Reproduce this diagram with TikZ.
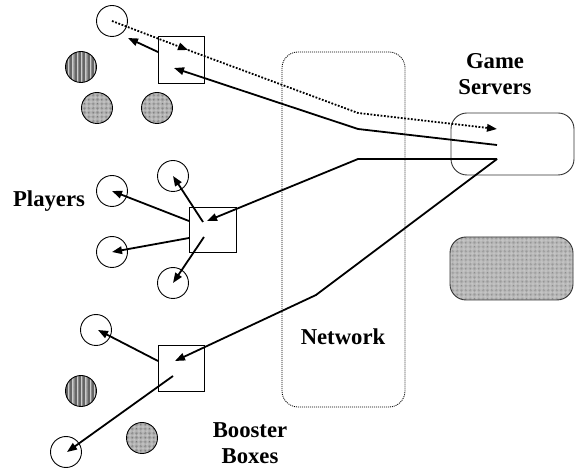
\documentclass[tikz,border=0pt]{standalone}
\usepackage{fontspec}
\setmainfont{Liberation Serif}
\usetikzlibrary{arrows.meta,patterns.meta}
\begin{document}
\begin{tikzpicture}[x=1pt,y=-1pt,
  lbl/.style={font=\fontsize{22.7}{26}\selectfont\bfseries, inner sep=0pt, align=center},
  player/.style={circle, draw, line width=0.9pt, minimum size=31pt, inner sep=0pt},
  vhatch/.style={player, preaction={fill=gray!40},
    pattern={Lines[angle=90,distance=1.3pt,line width=0.5pt]}, pattern color=black!60},
  dotfill/.style={player, preaction={fill=gray!40},
    pattern={Dots[distance=1.3pt,radius=0.4pt]}, pattern color=black!60},
  booster/.style={rectangle, draw, line width=0.9pt, inner sep=0pt},
  tip/.style={-{Triangle[length=10pt,width=7.5pt]}},
  arr/.style={line width=1.8pt, tip},
  dotline/.style={line width=1.8pt, dash pattern=on 1.8pt off 1.6pt},
]
\useasboundingbox (0,0) rectangle (579,470);

% network cloud and servers
\node[draw, line width=0.8pt, dash pattern=on 1pt off 1pt, rounded corners=16pt,
      minimum width=123pt, minimum height=355pt, inner sep=0pt] (net) at (343.5,229.5) {};
\node[draw=black!80, line width=0.9pt, rounded corners=16pt,
      minimum width=123pt, minimum height=62pt, inner sep=0pt] (srv) at (512.5,144) {};
\node[draw=black!80, line width=0.9pt, rounded corners=16pt,
      minimum width=123pt, minimum height=63pt, inner sep=0pt,
      preaction={fill=gray!40}, pattern={Dots[distance=1.3pt,radius=0.4pt]},
      pattern color=black!50] (srv2) at (511.5,268.5) {};

% booster boxes
\node[booster, minimum width=46pt, minimum height=47pt] (b1) at (181,59.5) {};
\node[booster, minimum width=47pt, minimum height=45pt] (b2) at (212.5,229.5) {};
\node[booster, minimum width=46pt, minimum height=46pt] (b3) at (181,368) {};

% players (open) and other machines (hatched)
\node[player] (p1) at (112,21) {};
\node[vhatch] (h1) at (81,67) {};
\node[dotfill] (d1) at (97,108) {};
\node[dotfill] (d2) at (157,108) {};
\node[player] (q1) at (112,191) {};
\node[player] (q2) at (173,176) {};
\node[player] (q3) at (112,252) {};
\node[player] (q4) at (173,283) {};
\node[player] (r1) at (96,330) {};
\node[vhatch] (h2) at (81,391) {};
\node[dotfill] (d3) at (142,438) {};
\node[player] (r2) at (66,452) {};

% labels
\node[lbl, anchor=north] (gs) at (495,53) {Game\\Servers};
\node[lbl, anchor=base] (pl) at (49,207) {Players};
\node[lbl, anchor=base] (nw) at (343,345) {Network};
\node[lbl, anchor=north] (bb) at (250,422.5) {Booster\\Boxes};

% connector end points
\coordinate (ds) at (497,129);
\coordinate (s1) at (497,145);
\coordinate (s2) at (497,159);
\coordinate (dk) at (358,113);
\coordinate (k1) at (358,129);
\coordinate (k2) at (358,159);
\coordinate (k3) at (316,295);
\coordinate (dm) at (188,50);
\coordinate (b1in) at (174,68);
\coordinate (b1w) at (158,52);
\coordinate (p1e) at (128,38);
\coordinate (b2in) at (207,221);
\coordinate (b2a) at (203,222);
\coordinate (b2b) at (189,221);
\coordinate (b2c) at (189,238);
\coordinate (b2d) at (204,237);
\coordinate (b3in) at (175,361);
\coordinate (b3a) at (158,361);
\coordinate (b3b) at (173,376);

% player -> booster -> server (dotted)
\draw[dotline, tip] (p1.center) -- (dm);
\draw[dotline, tip] (dm) -- (dk) -- (ds);

% server -> boosters
\draw[arr] (s1) -- (k1) -- (b1in);
\draw[arr] (s2) -- (k2) -- (b2in);
\draw[arr] (s2) -- (k3) -- (b3in);

% boosters -> players
\draw[arr] (b1w) -- (p1e);
\draw[arr] (b2a) -- (q2.center);
\draw[arr] (b2b) -- (q1.center);
\draw[arr] (b2c) -- (q3.center);
\draw[arr] (b2d) -- (q4.center);
\draw[arr] (b3a) -- ([xshift=2pt]r1.center);
\draw[arr] (b3b) -- ([xshift=1pt]r2.center);
\end{tikzpicture}
\end{document}
